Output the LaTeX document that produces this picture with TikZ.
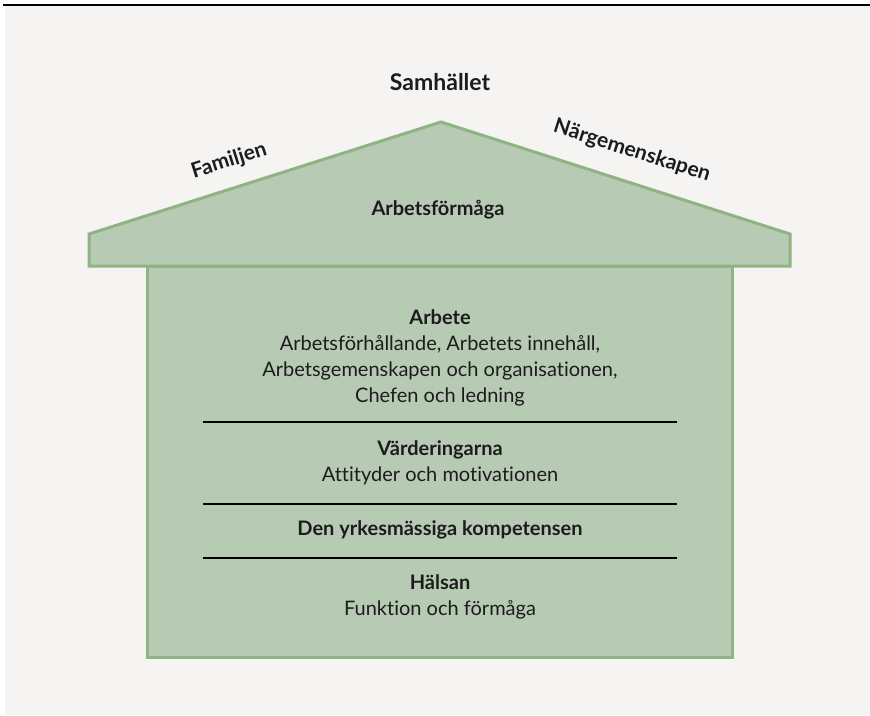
\documentclass[tikz,border=0pt]{standalone}
\usepackage{fontspec}
\setmainfont{Lato}[Ligatures=NoCommon]
\definecolor{paper}{HTML}{F5F4F2}
\definecolor{housefill}{HTML}{B7CBB4}
\definecolor{houseline}{HTML}{8FB383}
\definecolor{ink}{HTML}{1C1C1C}

\begin{document}
\begin{tikzpicture}[x=1pt, y=-1pt,
    house/.style={draw=houseline, fill=housefill, line width=3pt, line join=miter},
    label/.style={text=ink, font=\fontsize{21}{26}\selectfont\bfseries, inner sep=0pt},
    block/.style={text=ink, font=\fontsize{20}{26}\selectfont, align=center, inner sep=0pt}]
    \useasboundingbox (0,0) rectangle (870,715);
    % Background
    \fill[paper] (5,6) rectangle (870,715);
    \draw[black, line width=1.5pt] (3,5) -- (870,5);

    % House
    \draw[house] (147,266) rectangle (732,657);
    \draw[house] (89,266) -- (89,234) -- (441,122) -- (790,234) -- (790,266) -- cycle;

    % Nodes
    \node (society) [label, font=\fontsize{23}{26}\selectfont\bfseries] at (440,82) {Samhället};
    \node (family) [label, rotate=17.6] at (229,161) {Familjen};
    \node (community) [label, rotate=-17.6] at (632,151) {Närgemenskapen};
    \node (ability) [label, font=\fontsize{20}{26}\selectfont\bfseries] at (438,210) {Arbetsförmåga};

    \node (work) [block] at (440,358) {\textbf{Arbete}\\Arbetsförhållande, Arbetets innehåll,\\Arbetsgemenskapen och organisationen,\\Chefen och ledning};
    \node (values) [block] at (440,463) {\textbf{Värderingarna}\\Attityder och motivationen};
    \node (skills) [block] at (440,530) {\textbf{Den yrkesmässiga kompetensen}};
    \node (health) [block] at (440,597) {\textbf{Hälsan}\\Funktion och förmåga};

    % Separators
    \foreach \y in {422,504,558}
        \draw[black, line width=1.4pt] (203,\y) -- (677,\y);
\end{tikzpicture}
\end{document}
